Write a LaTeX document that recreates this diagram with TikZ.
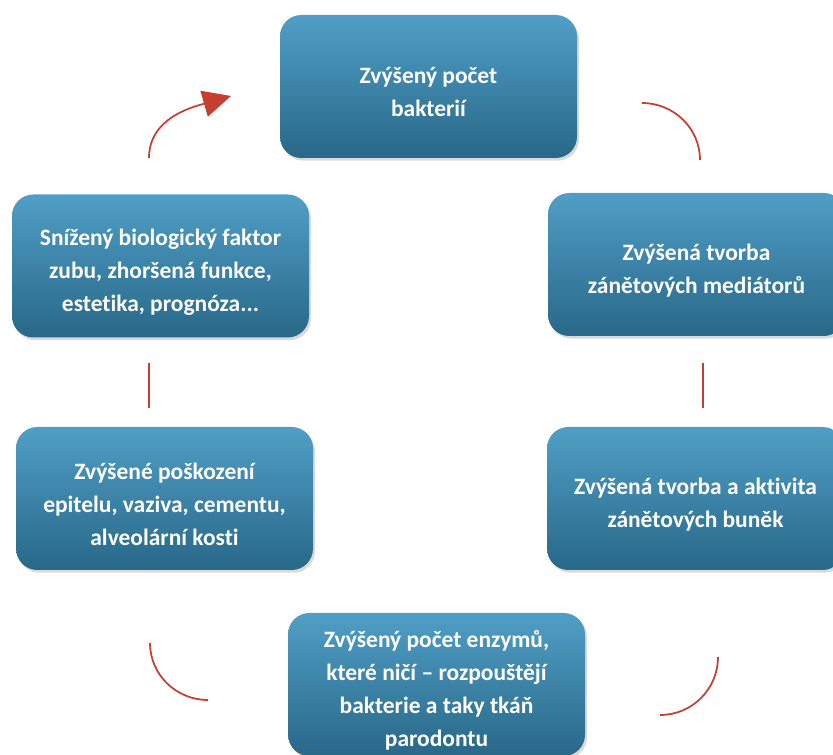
\documentclass[tikz,border=0pt]{standalone}
\usepackage{fontspec}
\setmainfont{Carlito}[Ligatures=NoCommon]
\usepackage{tikz}
\usetikzlibrary{arrows.meta,shadows}

\definecolor{boxtop}{RGB}{80,158,198}
\definecolor{boxbottom}{RGB}{40,104,136}
\definecolor{cyclered}{RGB}{198,62,48}

\newcommand\toppad{\rule{0pt}{21pt}}

\begin{document}
\begin{tikzpicture}[x=0.75pt,y=0.75pt,>={Triangle[length=21pt,width=20pt]},semithick]

    \tikzstyle{stage}=[rounded corners=16pt, minimum width=222.75pt, minimum height=107.25pt, top color=boxtop, bottom color=boxbottom, text=white, align=center, font=\fontsize{17.6pt}{24.75pt}\selectfont\bfseries, drop shadow={opacity=0.3, shadow xshift=1.5pt, shadow yshift=-2pt}]
    \tikzstyle{cycle}=[cyclered, line width=1.3pt]

    \useasboundingbox (0,0) rectangle (833,-755);

    % the six stages, clockwise from the top
    \node[stage] (bacteria) at (428.5,-86.5) {\toppad Zvýšený počet\\bakterií};
    \node[stage] (mediators) at (696.5,-264.5) {\toppad Zvýšená tvorba\\zánětových mediátorů};
    \node[stage] (cells) at (695.5,-498.5) {\toppad Zvýšená tvorba a aktivita\\zánětových buněk};
    \node[stage] (enzymes) at (436.5,-684.5) {\toppad Zvýšený počet enzymů,\\které ničí -- rozpouštějí\\bakterie a taky tkáň\\parodontu};
    \node[stage] (damage) at (164.5,-498.5) {\toppad Zvýšené poškození\\epitelu, vaziva, cementu,\\alveolární kosti};
    \node[stage] (factor) at (160.5,-266) {\toppad Snížený biologický faktor\\zubu, zhoršená funkce,\\estetika, prognóza...};

    % end points of the cycle pieces between the stages
    \coordinate (back_from) at (149,-158);
    \coordinate (back_to) at (231,-96);
    \coordinate (tr_from) at (642,-103);
    \coordinate (tr_to) at (700,-160);
    \coordinate (r_from) at (703,-363);
    \coordinate (r_to) at (703,-408);
    \coordinate (br_from) at (718,-657);
    \coordinate (br_to) at (660,-715);
    \coordinate (bl_from) at (208,-700);
    \coordinate (bl_to) at (150,-643);
    \coordinate (l_from) at (149,-408);
    \coordinate (l_to) at (149,-363);

    % the cycle, only the last piece carries a head
    \draw[cycle] (tr_from) to [out=0,in=90] (tr_to);
    \draw[cycle] (r_from) -- (r_to);
    \draw[cycle] (br_from) to [out=-90,in=0] (br_to);
    \draw[cycle] (bl_from) to [out=180,in=-90] (bl_to);
    \draw[cycle] (l_from) -- (l_to);
    \draw[cycle, ->] (back_from) to [out=90,in=196] (back_to);

\end{tikzpicture}
\end{document}
